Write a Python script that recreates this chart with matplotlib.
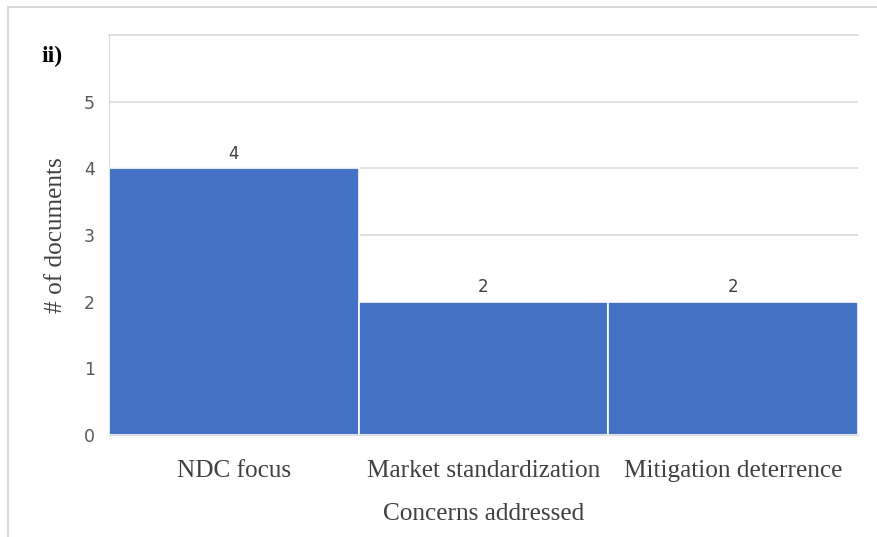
import matplotlib.pyplot as plt
from matplotlib.lines import Line2D

# 数据
concerns = ['NDC focus', 'Market standardization', 'Mitigation deterrence']
n_docs = [4, 2, 2]
y_ticks = [0, 1, 2, 3, 4, 5]

fig = plt.figure(figsize=(8.77, 5.37), dpi=100)
ax = fig.add_axes([0.1243, 0.1899, 0.8540, 0.7449])

# 柱状图
x = range(len(concerns))
bars = ax.bar(x, n_docs, width=1.0, color='#4472C4', edgecolor='white',
              linewidth=1.2, zorder=3)
for b, v in zip(bars, n_docs):
    ax.text(b.get_x() + b.get_width() / 2, v + 0.08, str(v), ha='center',
            va='bottom', fontsize=12, color='#404040', family='DejaVu Sans')

ax.set_xlim(-0.5, len(concerns) - 0.5)
ax.set_ylim(0, 6)
ax.set_yticks(y_ticks)
ax.set_yticklabels([str(t) for t in y_ticks])
ax.set_xticks(list(x))
ax.set_xticklabels(concerns, family='Liberation Serif', fontsize=18.2,
                   color='#404040')
for lab in ax.get_yticklabels():
    lab.set_family('DejaVu Sans')
    lab.set_fontsize(12.5)
    lab.set_color('#595959')
ax.tick_params(axis='both', length=0)
ax.tick_params(axis='y', pad=10)
ax.tick_params(axis='x', pad=18)

ax.grid(axis='y', color='#D9D9D9', linewidth=1.2, zorder=0)
ax.axhline(6, color='#D9D9D9', linewidth=1.2, clip_on=False, zorder=0)
for s in ['top', 'right']:
    ax.spines[s].set_visible(False)
ax.spines['left'].set_color('#D9D9D9')
ax.spines['bottom'].set_color('#D9D9D9')

ax.set_xlabel('Concerns addressed', family='Liberation Serif', fontsize=18.2,
              color='#404040', labelpad=15)
ax.set_ylabel('# of documents', family='Liberation Serif', fontsize=18.2,
              color='#404040', labelpad=12)

fig.text(41 / 877, 1 - 56 / 537, 'ii)', family='Liberation Serif',
         fontsize=17, fontweight='bold', va='center', ha='left')

# 外边框
fig.add_artist(Line2D([8 / 877, 1], [1 - 7 / 537, 1 - 7 / 537],
                      color='#D9D9D9', linewidth=1.5))
fig.add_artist(Line2D([8 / 877, 8 / 877], [0, 1 - 7 / 537],
                      color='#D9D9D9', linewidth=1.5))

fig.savefig('out.png', dpi=100)
